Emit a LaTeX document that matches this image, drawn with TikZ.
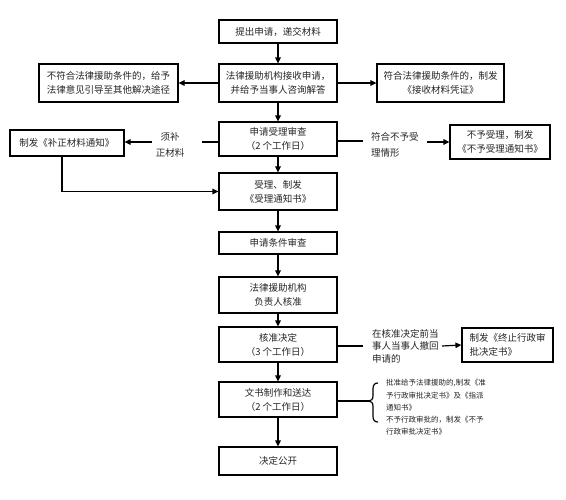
\documentclass[tikz,border=0pt]{standalone}
\usepackage{fontspec}
\newfontfamily\cjk{Noto Sans CJK SC}
\usetikzlibrary{arrows.meta}
\begin{document}
\begin{tikzpicture}[x=1pt,y=-1pt,
  box/.style={draw, line width=1.2pt, inner sep=0pt, align=center, text=black!85,
    font={\cjk\fontsize{9.5}{14}\selectfont}},
  mainbox/.style={box, minimum width=118pt},
  lbl/.style={inner sep=0pt, text=black!85, font={\cjk\fontsize{9.5}{16}\selectfont}},
  arr/.style={-{Triangle[length=6pt,width=5.5pt]}, line width=1.2pt},
  ln/.style={line width=1.2pt}]
\fill[white] (0,0) rectangle (566,499);
\useasboundingbox (0,0) rectangle (566,499);

% main column
\node[mainbox, minimum height=23pt] (b1) at (278,31.5) {提出申请，递交材料};
\node[mainbox, minimum height=38pt] (b2) at (278,83) {法律援助机构接收申请，\\并给予当事人咨询解答};
\node[mainbox, minimum height=34pt] (b3) at (278,139) {申请受理审查\\（2 个工作日）};
\node[mainbox, minimum height=37pt] (b4) at (278,191.5) {受理、制发\\《受理通知书》};
\node[mainbox, minimum height=22pt] (b5) at (278,243) {申请条件审查};
\node[mainbox, minimum height=36pt] (b6) at (278,295) {法律援助机构\\负责人核准};
\node[mainbox, minimum height=35pt] (b7) at (278,344.5) {核准决定\\（3 个工作日）};
\node[mainbox, minimum height=35pt] (b8) at (278,399.5) {文书制作和送达\\（2 个工作日）};
\node[mainbox, minimum height=28pt] (b9) at (278,461) {决定公开};

% side boxes
\node[box, minimum width=139pt, minimum height=38pt] (bl) at (108.5,83) {不符合法律援助条件的，给予\\法律意见引导至其他解决途径};
\node[box, minimum width=127pt, minimum height=38pt] (br) at (440.5,83) {符合法律援助条件的，制发\\《接收材料凭证》};
\node[box, minimum width=114pt, minimum height=26pt] (bl2) at (67,143) {制发《补正材料通知》};
\node[box, minimum width=100pt, minimum height=34pt] (br2) at (500,142) {不予受理，制发\\《不予受理通知书》};
\node[box, minimum width=91pt, minimum height=34pt, align=left] (br3) at (507.5,345) {制发《终止行政审\\批决定书》};

% labels
\node[lbl, align=center] (l1) at (170,145) {须补\\正材料};
\node[lbl, align=left, anchor=west] (l2) at (371,145) {符合不予受\\理情形};
\node[lbl, align=left, anchor=west, font={\cjk\fontsize{9.5}{12.5}\selectfont}] (l3) at (372,346) {在核准决定前当\\事人当事人撤回\\申请的};
\node[lbl, align=left, anchor=west, font={\cjk\fontsize{7.5}{12.3}\selectfont}] (l4) at (386,407.5) {批准给予法律援助的,制发《准\\予行政审批决定书》及《指派\\通知书》\\不予行政审批的，制发《不予\\行政审批决定书》};

% vertical arrows
\draw[arr] (b1) -- (b2);
\draw[arr] (b2) -- (b3);
\draw[arr] (b3) -- (b4);
\draw[arr] (b4) -- (b5);
\draw[arr] (b5) -- (b6);
\draw[arr] (b6) -- (b7);
\draw[arr] (b7) -- (b8);
\draw[arr] (b8) -- (b9);

% row 2
\draw[arr] (b2.west) -- (bl.east);
\draw[arr] (b2.east) -- (br.west);

% row 3
\coordinate (c3l) at (202,142);
\coordinate (c3la) at (152,142);
\draw[ln] (b3.west |- c3l) -- (c3l);
\draw[arr] (c3la) -- (bl2.east |- c3la);
\coordinate (c3r) at (363,141);
\coordinate (c3ra) at (427,142);
\draw[ln] (b3.east |- c3r) -- (c3r);
\draw[arr] (c3ra) -- (br2.west);

% back to b4
\draw[arr] ([xshift=-5pt]bl2.south) |- (b4.west);

% row b7
\coordinate (c7) at (363,346);
\coordinate (c7a) at (442,346);
\draw[ln] (b7.east |- c7) -- (c7);
\draw[arr] (c7a) -- (br3.west);

% row b8 with brace
\coordinate (c8) at (369,401);
\draw[ln] (b8.east |- c8) -- (c8);
\draw[ln] (378,383) .. controls (374.5,383) and (373,385) .. (373,389) -- (373,396)
  .. controls (373,399.5) and (371,400.7) .. (c8)
  .. controls (371,401.3) and (373,402.5) .. (373,406) -- (373,416)
  .. controls (373,420) and (374.5,422) .. (378,422);
\end{tikzpicture}
\end{document}
